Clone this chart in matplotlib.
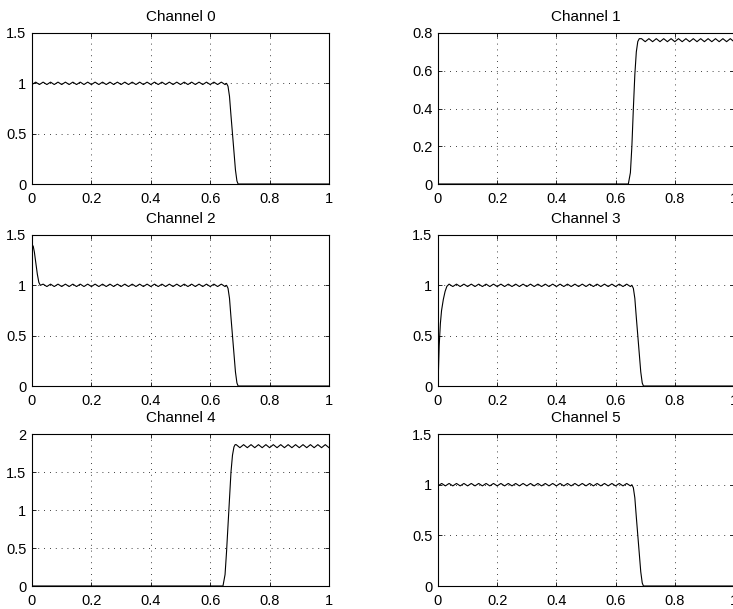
import numpy as np
import matplotlib.pyplot as plt

plt.rcParams['font.family'] = ['Liberation Sans', 'DejaVu Sans']

# Titulos y limites de cada canal
titles = ['Channel 0', 'Channel 1', 'Channel 2', 'Channel 3', 'Channel 4', 'Channel 5']
y_max = [1.5, 0.8, 1.5, 1.5, 2.0, 1.5]
y_step = [0.5, 0.2, 0.5, 0.5, 0.5, 0.5]

# Posiciones de las crestas del rizado
crest_x = [0.0000, 0.0125, 0.0250, 0.0375, 0.0500, 0.0625, 0.0750, 0.0875,
           0.1000, 0.1125, 0.1250, 0.1375, 0.1500, 0.1625, 0.1750, 0.1875,
           0.2000, 0.2125, 0.2250, 0.2375, 0.2500, 0.2625, 0.2750, 0.2875,
           0.3000, 0.3125, 0.3250, 0.3375, 0.3500, 0.3625, 0.3750, 0.3875,
           0.4000, 0.4125, 0.4250, 0.4375, 0.4500, 0.4625, 0.4750, 0.4875,
           0.5000, 0.5125, 0.5250, 0.5375, 0.5500, 0.5625, 0.5750, 0.5875,
           0.6000, 0.6125, 0.6250, 0.6375, 0.6500, 0.6625, 0.6750,
           0.6875, 0.7000, 0.7125, 0.7250, 0.7375, 0.7500, 0.7625, 0.7750,
           0.7875, 0.8000, 0.8125, 0.8250, 0.8375, 0.8500, 0.8625, 0.8750,
           0.8875, 0.9000, 0.9125, 0.9250, 0.9375, 0.9500, 0.9625, 0.9750,
           0.9875, 1.0000]

# Nivel de la banda de paso, amplitud del rizado y tramo plano
levels = [1.0, 0.762, 1.0, 1.0, 1.84, 1.0]
ripple_amp = [0.012, 0.008, 0.012, 0.012, 0.02, 0.012]
flat_lo = [0.0, 0.686, 0.03, 0.036, 0.686, 0.0]
flat_hi = [0.652, 1.0, 0.652, 0.652, 1.0, 0.652]

# Flancos de bajada y subida
fall_x = [0.655, 0.660, 0.665, 0.670, 0.675, 0.680, 0.685, 0.690, 0.694, 1.0]
fall_y = [1.0, 0.97, 0.87, 0.68, 0.5, 0.32, 0.14, 0.03, 0.0, 0.0]
rise1_x = [0.0, 0.643, 0.650, 0.655, 0.660, 0.665, 0.670, 0.675, 0.680]
rise1_y = [0.0, 0.0, 0.06, 0.2, 0.4, 0.58, 0.7, 0.755, 0.77]
rise4_x = [0.0, 0.643, 0.650, 0.655, 0.660, 0.665, 0.670, 0.675, 0.680, 0.684]
rise4_y = [0.0, 0.0, 0.15, 0.45, 0.8, 1.15, 1.5, 1.72, 1.83, 1.86]
start2_x = [0.0, 0.004, 0.008, 0.013, 0.018, 0.023, 0.028]
start2_y = [1.4, 1.39, 1.33, 1.22, 1.11, 1.03, 1.0]
start3_x = [0.0, 0.004, 0.008, 0.012, 0.018, 0.024, 0.030]
start3_y = [0.0, 0.4, 0.62, 0.75, 0.86, 0.94, 0.99]

head_x = [[], rise1_x, start2_x, start3_x, rise4_x, []]
head_y = [[], rise1_y, start2_y, start3_y, rise4_y, []]
tail_x = [fall_x, [], fall_x, fall_x, [], fall_x]
tail_y = [fall_y, [], fall_y, fall_y, [], fall_y]


def channel_curve(i):
    cx, cy = [], []
    for k, x in enumerate(crest_x):
        if flat_lo[i] <= x <= flat_hi[i]:
            cx.append(x)
            cy.append(levels[i] + (ripple_amp[i] if k % 2 else -ripple_amp[i]))
    return head_x[i] + cx + tail_x[i], head_y[i] + cy + tail_y[i]


W, H = 733, 609
fig = plt.figure(figsize=(W / 100, H / 100), dpi=100)

lefts = [32, 438]
tops = [33, 235, 434]
bottoms = [184, 386, 586]

for i in range(6):
    r, c = divmod(i, 2)
    left = lefts[c]
    width = 297 if c == 0 else 296
    ax = fig.add_axes([left / W, (H - bottoms[r]) / H, width / W, (bottoms[r] - tops[r]) / H])
    x, y = channel_curve(i)
    ax.plot(x, y, color='black', linewidth=0.8)
    ax.set_xlim(0, 1)
    ax.set_ylim(0, y_max[i])
    ax.set_xticks([0, 0.2, 0.4, 0.6, 0.8, 1])
    ax.set_xticklabels(['0', '0.2', '0.4', '0.6', '0.8', '1'])
    yt = np.round(np.arange(0, y_max[i] + 1e-9, y_step[i]), 2)
    ax.set_yticks(yt)
    ax.set_yticklabels(['%g' % v for v in yt])
    ax.grid(True, color='black', linestyle=(0, (1, 6)), linewidth=0.6)
    ax.tick_params(direction='in', length=3, width=0.6, top=True, right=True,
                   labelsize=10.5, colors='black')
    ax.tick_params(axis='x', pad=6)
    ax.tick_params(axis='y', pad=4)
    for s in ax.spines.values():
        s.set_linewidth(0.8)
    ax.set_title(titles[i], fontsize=11, pad=8.5)

plt.savefig('out.png', dpi=100)
